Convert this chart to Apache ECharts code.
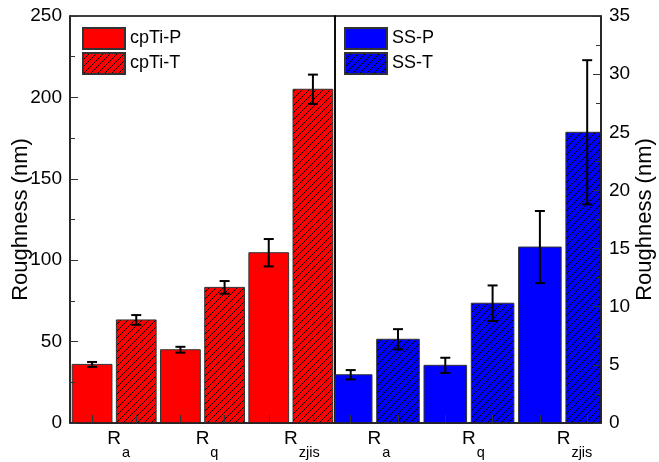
<!DOCTYPE html>
<html>
<head>
<meta charset="utf-8">
<script src="https://cdn.jsdelivr.net/npm/echarts@6/dist/echarts.min.js"></script>
<style>
  html, body { margin: 0; padding: 0; background: #fff; }
  #chart { width: 659px; height: 462px; }
</style>
</head>
<body>
<div id="chart"></div>
<script>
// subscripts of R for each roughness parameter
const params = ["a", "q", "zjis"];

// cpTi (left axis, nm)
const cpTiP = [36.0, 45.0, 104.6];
const cpTiPErr = [1.5, 1.8, 8.4];
const cpTiT = [63.3, 83.3, 205.0];
const cpTiTErr = [3.0, 3.9, 9.0];

// SS (right axis, nm)
const ssP = [4.15, 4.96, 15.13];
const ssPErr = [0.4, 0.65, 3.1];
const ssT = [7.2, 10.3, 25.0];
const ssTErr = [0.87, 1.53, 6.2];

const leftTicks = [0, 50, 100, 150, 200, 250];
const rightTicks = [0, 5, 10, 15, 20, 25, 30, 35];

const FONT = "Liberation Sans, Arial, sans-serif";
const SUB_SIZE = 14.5;
const BAR_FRAC = 0.9; // bar width as share of one slot

// each parameter gets two slots: P at 2i+0.5, T at 2i+1.5
const posP = params.map((_, i) => 2 * i + 0.5);
const posT = params.map((_, i) => 2 * i + 1.5);
const barCenters = posP.concat(posT).sort((a, b) => a - b);
const labelPos = params.map((_, i) => 2 * i + 1);

// spacer on the left as wide as the subscript, so "R" itself sits centred
const ctx = document.createElement("canvas").getContext("2d");
ctx.font = SUB_SIZE + "px " + FONT;
const rich = {
    r: { fontSize: 19, fontFamily: FONT, color: "#000", lineHeight: 22, verticalAlign: "top" },
    s: { fontSize: SUB_SIZE, fontFamily: FONT, color: "#000", lineHeight: 48, padding: [0, 0, 0, 1] }
};
params.forEach((p, i) => {
    rich["sp" + i] = { width: ctx.measureText(p).width + 1 };
});

// "/" hatch tile on a coloured ground
function hatchFill(color) {
    const s = 7;
    const c = document.createElement("canvas");
    c.width = s; c.height = s;
    const g = c.getContext("2d");
    g.fillStyle = color;
    g.fillRect(0, 0, s, s);
    g.strokeStyle = "#000";
    g.lineWidth = 1;
    for (let k = -1; k <= 1; k++) {
        g.beginPath();
        g.moveTo(k * s - 1, s + 1);
        g.lineTo(k * s + s + 1, -1);
        g.stroke();
    }
    return { image: c, repeat: "repeat" };
}

function pairs(pos, vals) {
    return vals.map((v, i) => [pos[i], v]);
}
function triples(pos, vals, errs) {
    return vals.map((v, i) => [pos[i], v, errs[i]]);
}

// bars as custom rects so they can be clipped to the panel edge
function bars(name, idx, data, fill) {
    return {
        type: "custom",
        name: name,
        xAxisIndex: idx,
        yAxisIndex: idx,
        z: 2,
        encode: { x: 0, y: 1 },
        data: data,
        itemStyle: { color: fill, borderColor: "#333", borderWidth: 1 },
        renderItem: function (params, api) {
            const x = api.value(0), y = api.value(1);
            const top = api.coord([x, y]);
            const base = api.coord([x, 0]);
            const w = api.size([BAR_FRAC, 0])[0];
            const rect = echarts.graphic.clipRectByRect(
                { x: top[0] - w / 2, y: top[1], width: w, height: base[1] - top[1] },
                { x: params.coordSys.x, y: params.coordSys.y, width: params.coordSys.width, height: params.coordSys.height }
            );
            if (!rect) return;
            return { type: "rect", shape: rect, style: { fill: fill, stroke: "#333", lineWidth: 1 } };
        }
    };
}

function errorBars(name, idx, data) {
    return {
        type: "custom",
        name: name + "-err",
        xAxisIndex: idx,
        yAxisIndex: idx,
        z: 5,
        encode: { x: 0, y: 1 },
        data: data,
        renderItem: function (params, api) {
            const x = api.value(0), y = api.value(1), e = api.value(2);
            const top = api.coord([x, y + e]);
            const bot = api.coord([x, y - e]);
            const st = { stroke: "#000", lineWidth: 2 };
            return {
                type: "group",
                children: [
                    { type: "line", shape: { x1: top[0], y1: top[1], x2: bot[0], y2: bot[1] }, style: st },
                    { type: "line", shape: { x1: top[0] - 5, y1: top[1], x2: top[0] + 5, y2: top[1] }, style: st },
                    { type: "line", shape: { x1: bot[0] - 5, y1: bot[1], x2: bot[0] + 5, y2: bot[1] }, style: st }
                ]
            };
        }
    };
}

function xAxis(idx, min, max) {
    return {
        type: "value",
        gridIndex: idx,
        min: min,
        max: max,
        z: 10,
        axisLine: { show: true, lineStyle: { color: "#222", width: 1.5 } },
        axisTick: { show: true, inside: true, length: 8, customValues: barCenters, lineStyle: { color: "#333" } },
        splitLine: { show: false },
        axisLabel: {
            customValues: labelPos,
            margin: 6,
            formatter: function (v) {
                const i = Math.round((v - 1) / 2);
                return "{sp" + i + "|}{r|R}{s|" + params[i] + "}";
            },
            rich: rich
        }
    };
}

function yAxis(idx, pos, max, interval) {
    return {
        type: "value",
        gridIndex: idx,
        position: pos,
        min: 0,
        max: max,
        interval: interval,
        z: 10,
        name: "Roughness (nm)",
        nameLocation: "middle",
        nameRotate: 90,
        nameMoveOverlap: false,
        nameGap: pos === "left" ? 38 : 33,
        nameTextStyle: { fontSize: 22, fontFamily: FONT, color: "#000" },
        axisLine: { show: true, lineStyle: { color: "#222", width: 1.5 } },
        axisTick: { show: true, inside: true, length: 8, lineStyle: { color: "#333" } },
        minorTick: { show: true, splitNumber: 2, length: 5, lineStyle: { color: "#333" } },
        splitLine: { show: false },
        axisLabel: { fontSize: 19, fontFamily: FONT, color: "#000", margin: 8 }
    };
}

const redHatch = hatchFill("#ff0000");
const blueHatch = hatchFill("#0000ff");

const chart = echarts.init(document.getElementById("chart"));
chart.setOption({
    animation: false,
    backgroundColor: "#fff",
    grid: [
        { left: 70, top: 16, width: 265, height: 407, outerBoundsMode: "none", show: true, borderColor: "#000", borderWidth: 1.5 },
        { left: 335, top: 16, width: 266, height: 407, outerBoundsMode: "none", show: true, borderColor: "#000", borderWidth: 1.5 }
    ],
    legend: [
        {
            data: ["cpTi-P", "cpTi-T"],
            orient: "vertical", left: 77, top: 22,
            icon: "rect", itemWidth: 42, itemHeight: 21, itemGap: 2,
            textStyle: { fontSize: 18, fontFamily: FONT, color: "#000" }
        },
        {
            data: ["SS-P", "SS-T"],
            orient: "vertical", left: 339, top: 22,
            icon: "rect", itemWidth: 42, itemHeight: 21, itemGap: 2,
            textStyle: { fontSize: 18, fontFamily: FONT, color: "#000" }
        }
    ],
    xAxis: [xAxis(0, 0, 6), xAxis(1, 0.168, 5.792)],
    yAxis: [yAxis(0, "left", leftTicks[leftTicks.length - 1], 50), yAxis(1, "right", rightTicks[rightTicks.length - 1], 5)],
    series: [
        bars("cpTi-P", 0, pairs(posP, cpTiP), "#ff0000"),
        bars("cpTi-T", 0, pairs(posT, cpTiT), redHatch),
        bars("SS-P", 1, pairs(posP, ssP), "#0000ff"),
        bars("SS-T", 1, pairs(posT, ssT), blueHatch),
        errorBars("cpTi-P", 0, triples(posP, cpTiP, cpTiPErr)),
        errorBars("cpTi-T", 0, triples(posT, cpTiT, cpTiTErr)),
        errorBars("SS-P", 1, triples(posP, ssP, ssPErr)),
        errorBars("SS-T", 1, triples(posT, ssT, ssTErr))
    ]
});
</script>
</body>
</html>
